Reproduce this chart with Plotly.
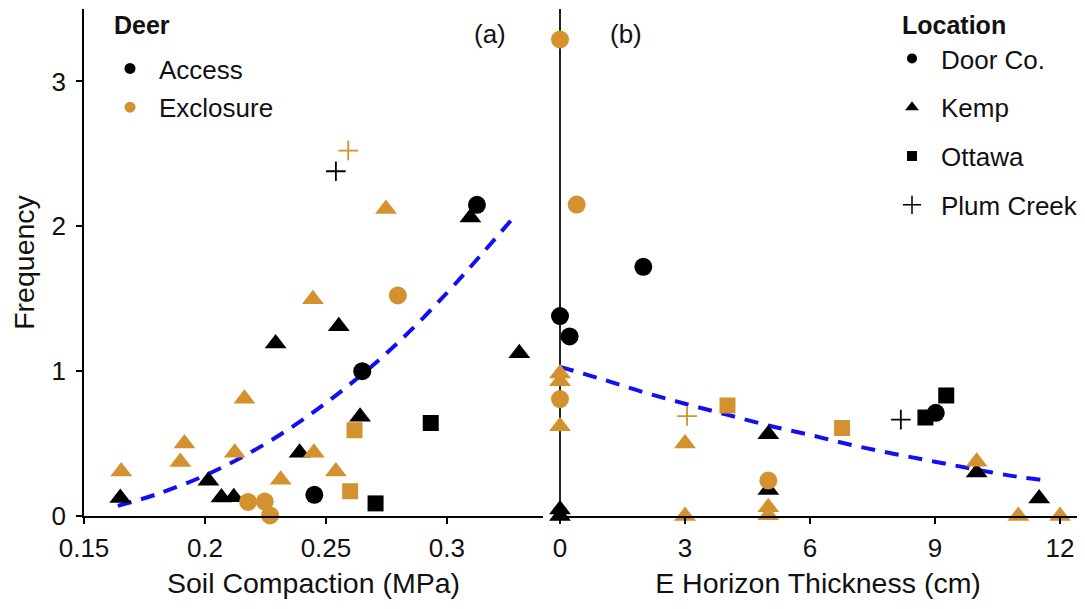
import plotly.graph_objects as go

ORANGE = "#D4912F"
BLACK = "#000000"
BLUE = "#1010F0"
FONT = "Arial, Liberation Sans, sans-serif"

# ---------------- Panel (a): Soil compaction (MPa) ----------------
a_access_kemp_x = [0.165, 0.2014, 0.2068, 0.2119, 0.2292, 0.2391, 0.2553, 0.2641, 0.3299, 0.3097]
a_access_kemp_y = [0.125, 0.243, 0.128, 0.13, 1.19, 0.436, 1.31, 0.686, 1.123, 2.06]
a_access_door_x = [0.265, 0.2452, 0.3124]
a_access_door_y = [1.0, 0.146, 2.148]
a_access_ottawa_x = [0.2933, 0.2705]
a_access_ottawa_y = [0.642, 0.087]
a_access_plum_x = [0.2541]
a_access_plum_y = [2.38]

a_excl_kemp_x = [0.1654, 0.1898, 0.1915, 0.2163, 0.2123, 0.2313, 0.2446, 0.245, 0.2541, 0.2748]
a_excl_kemp_y = [0.307, 0.373, 0.5, 0.81, 0.437, 0.25, 1.497, 0.437, 0.308, 2.12]
a_excl_door_x = [0.2797, 0.2178, 0.2247, 0.2269]
a_excl_door_y = [1.523, 0.097, 0.1, 0.004]
a_excl_ottawa_x = [0.2618, 0.2600]
a_excl_ottawa_y = [0.592, 0.171]
a_excl_plum_x = [0.2592]
a_excl_plum_y = [2.523]

a_trend_x = [0.164, 0.18, 0.2, 0.22, 0.24, 0.26, 0.28, 0.30, 0.315, 0.329]
a_trend_y = [0.07, 0.15, 0.28, 0.45, 0.66, 0.91, 1.20, 1.54, 1.82, 2.09]

# ---------------- Panel (b): E horizon thickness (cm) ----------------
b_access_kemp_x = [0, 0, 5, 5, 10, 11.5]
b_access_kemp_y = [0.045, 0.0, 0.565, 0.18, 0.3, 0.12]
b_access_door_x = [0, 0.23, 2.0, 9.02]
b_access_door_y = [1.38, 1.24, 1.72, 0.712]
b_access_ottawa_x = [9.27, 8.77]
b_access_ottawa_y = [0.832, 0.68]
b_access_plum_x = [8.18]
b_access_plum_y = [0.665]

b_excl_kemp_x = [0, 0, 0, 3, 3, 5, 5, 10, 11, 12]
b_excl_kemp_y = [0.984, 0.93, 0.62, 0.5, 0.0, 0.06, 0.005, 0.375, 0.0, 0.0]
b_excl_door_x = [0, 0.4, 0, 5]
b_excl_door_y = [3.29, 2.15, 0.807, 0.245]
b_excl_ottawa_x = [4.02, 6.77]
b_excl_ottawa_y = [0.763, 0.607]
b_excl_plum_x = [3.05]
b_excl_plum_y = [0.69]

b_trend_x = [0, 1, 2, 3, 4, 5, 6, 7, 8, 9, 10, 11, 11.7]
b_trend_y = [1.03, 0.945, 0.855, 0.775, 0.70, 0.625, 0.56, 0.49, 0.43, 0.375, 0.32, 0.27, 0.245]

# tick labels
a_ticks = [0.15, 0.2, 0.25, 0.3]
a_ticktext = ["0.15", "0.2", "0.25", "0.3"]
b_ticks = [0, 3, 6, 9, 12]
y_ticks = [0, 1, 2, 3]

deer_groups = ["Access", "Exclosure"]
locations = ["Door Co.", "Kemp", "Ottawa", "Plum Creek"]

SYM = {"Door Co.": "circle", "Kemp": "triangle-up", "Ottawa": "square", "Plum Creek": "cross-thin"}
SIZE = {"Door Co.": 18, "Kemp": 19, "Ottawa": 16, "Plum Creek": 14}

fig = go.Figure()


def add_pts(x, y, loc, color, xa):
    sym = SYM[loc]
    if sym == "cross-thin":
        marker = dict(symbol=sym, size=SIZE[loc], color=color, line=dict(color=color, width=1.8))
    else:
        marker = dict(symbol=sym, size=SIZE[loc], color=color, line=dict(width=0))
    fig.add_trace(go.Scatter(x=x, y=y, mode="markers", marker=marker, xaxis=xa, yaxis="y",
                             showlegend=False, cliponaxis=False, hoverinfo="x+y"))


# trend lines (drawn under markers)
fig.add_trace(go.Scatter(x=a_trend_x, y=a_trend_y, mode="lines", line=dict(color=BLUE, width=4, dash="14px,10px", shape="spline"),
                         xaxis="x", yaxis="y", showlegend=False))
fig.add_trace(go.Scatter(x=b_trend_x, y=b_trend_y, mode="lines", line=dict(color=BLUE, width=4, dash="14px,10px", shape="spline"),
                         xaxis="x2", yaxis="y", showlegend=False))

# panel a
add_pts(a_access_kemp_x, a_access_kemp_y, "Kemp", BLACK, "x")
add_pts(a_access_ottawa_x, a_access_ottawa_y, "Ottawa", BLACK, "x")
add_pts(a_access_door_x, a_access_door_y, "Door Co.", BLACK, "x")
add_pts(a_access_plum_x, a_access_plum_y, "Plum Creek", BLACK, "x")
add_pts(a_excl_kemp_x, a_excl_kemp_y, "Kemp", ORANGE, "x")
add_pts(a_excl_ottawa_x, a_excl_ottawa_y, "Ottawa", ORANGE, "x")
add_pts(a_excl_door_x, a_excl_door_y, "Door Co.", ORANGE, "x")
add_pts(a_excl_plum_x, a_excl_plum_y, "Plum Creek", ORANGE, "x")
# panel b
add_pts(b_access_kemp_x, b_access_kemp_y, "Kemp", BLACK, "x2")
add_pts(b_access_ottawa_x, b_access_ottawa_y, "Ottawa", BLACK, "x2")
add_pts(b_access_door_x, b_access_door_y, "Door Co.", BLACK, "x2")
add_pts(b_access_plum_x, b_access_plum_y, "Plum Creek", BLACK, "x2")
add_pts(b_excl_kemp_x, b_excl_kemp_y, "Kemp", ORANGE, "x2")
add_pts(b_excl_ottawa_x, b_excl_ottawa_y, "Ottawa", ORANGE, "x2")
add_pts(b_excl_door_x, b_excl_door_y, "Door Co.", ORANGE, "x2")
add_pts(b_excl_plum_x, b_excl_plum_y, "Plum Creek", ORANGE, "x2")

# legend entries
for name, col in zip(deer_groups, [BLACK, ORANGE]):
    fig.add_trace(go.Scatter(x=[None], y=[None], mode="markers", name=name,
                             marker=dict(symbol="circle", size=11, color=col),
                             legend="legend", legendgroup=name))
LEG_SIZE = {"Door Co.": 10, "Kemp": 12, "Ottawa": 10, "Plum Creek": 13}
for loc in locations:
    m = dict(symbol=SYM[loc], size=LEG_SIZE[loc], color=BLACK)
    if SYM[loc] == "cross-thin":
        m["line"] = dict(color=BLACK, width=1.5)
    fig.add_trace(go.Scatter(x=[None], y=[None], mode="markers", name=loc, marker=m,
                             legend="legend2", legendgroup=loc))

# page body adds an 8px margin, so the figure is laid out 8px smaller/earlier
W, H = 1077, 601
T, B = 1, 93
PH = H - T - B


def py(fig_y):
    return (H - B - fig_y) / PH


TXT = "#111"
axis_common = dict(showline=True, linecolor=BLACK, linewidth=1.5, ticks="outside", ticklen=6,
                   tickwidth=1.5, tickcolor=BLACK, showgrid=False, zeroline=False,
                   tickfont=dict(family=FONT, size=26, color=TXT),
                   title_font=dict(family=FONT, size=28.5, color=TXT))

fig.update_layout(
    width=W, height=H,
    margin=dict(l=0, r=0, t=T, b=B, autoexpand=False),
    paper_bgcolor="white", plot_bgcolor="white",
    font=dict(family=FONT, color=TXT),
    xaxis=dict(domain=[76 / W, 535 / W], range=[0.15, 0.3397], tickvals=a_ticks, ticktext=a_ticktext,
               title=dict(text="Soil Compaction (MPa)", standoff=11), ticklabelstandoff=2, **axis_common),
    xaxis2=dict(domain=[548 / W, 1072 / W], range=[-0.096, 12.48], tickvals=b_ticks,
                title=dict(text="E Horizon Thickness (cm)", standoff=11), ticklabelstandoff=2,
                **{k: v for k, v in axis_common.items() if k != "zeroline"},
                zeroline=True, zerolinecolor="#222", zerolinewidth=1.5),
    yaxis=dict(range=[0, 3.5], tickvals=y_ticks, title=dict(text="Frequency", standoff=9),
               ticklabelstandoff=5, anchor="x", **axis_common),
    legend=dict(font=dict(family=FONT, size=26, color=TXT), x=93 / W, xanchor="left",
                y=1 - 37 / H, yanchor="top", yref="container", bgcolor="rgba(0,0,0,0)",
                tracegroupgap=2, itemsizing="trace", itemwidth=48),
    legend2=dict(font=dict(family=FONT, size=26, color=TXT), x=875 / W, xanchor="left",
                 y=1 - 27 / H, yanchor="top", yref="container", bgcolor="rgba(0,0,0,0)",
                 tracegroupgap=12, itemsizing="trace", itemwidth=48),
    annotations=[
        dict(text="<b>Deer</b>", x=104 / W, y=py(17), xref="paper", yref="paper", showarrow=False,
             xanchor="left", yanchor="middle", font=dict(family=FONT, size=25, color=TXT)),
        dict(text="<b>Location</b>", x=892 / W, y=py(17), xref="paper", yref="paper", showarrow=False,
             xanchor="left", yanchor="middle", font=dict(family=FONT, size=25, color=TXT)),
        dict(text="(a)", x=482 / W, y=py(26), xref="paper", yref="paper", showarrow=False,
             xanchor="center", yanchor="middle", font=dict(family=FONT, size=26, color=TXT)),
        dict(text="(b)", x=618 / W, y=py(26), xref="paper", yref="paper", showarrow=False,
             xanchor="center", yanchor="middle", font=dict(family=FONT, size=26, color=TXT)),
    ],
)

fig.write_html("out.html")
